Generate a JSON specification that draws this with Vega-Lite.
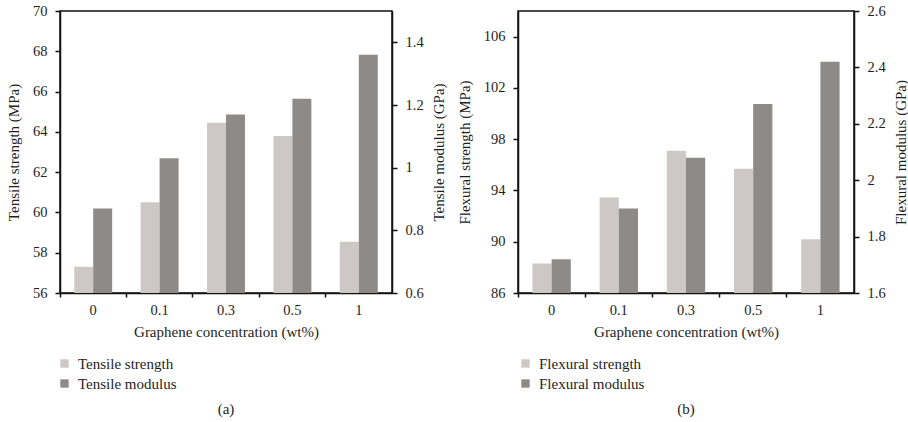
{
  "$schema": "https://vega.github.io/schema/vega-lite/v6.json",
  "background": "white",
  "padding": {"left": 5, "top": 2, "right": 2, "bottom": 2},
  "spacing": 9,
  "resolve": {"scale": {"color": "independent", "x": "independent", "xOffset": "independent"}, "legend": {"color": "independent"}},
  "config": {
    "font": "Liberation Serif",
    "view": {"stroke": "#111", "strokeWidth": 1.5},
    "axis": {
      "labelFont": "Liberation Serif", "labelFontSize": 14.5, "labelColor": "#1e1e1e",
      "titleFont": "Liberation Serif", "titleFontSize": 15, "titleFontWeight": "normal", "titleColor": "#1e1e1e",
      "domainColor": "#111", "domainWidth": 1.5, "tickColor": "#111", "tickWidth": 1.5, "tickSize": 5,
      "grid": false, "labelPadding": 8
    },
    "legend": {
      "labelFont": "Liberation Serif", "labelFontSize": 15, "labelColor": "#1e1e1e",
      "symbolType": "square", "symbolSize": 70, "symbolStrokeWidth": 0, "rowPadding": 4, "labelOffset": 6, "padding": 0
    },
    "title": {"font": "Liberation Serif", "fontSize": 15, "fontWeight": "normal", "color": "#1e1e1e"}
  },
  "datasets": {
    "a": [
      {"conc": "0", "series": "Tensile strength", "value": 57.3},
      {"conc": "0", "series": "Tensile modulus", "value": 0.87},
      {"conc": "0.1", "series": "Tensile strength", "value": 60.5},
      {"conc": "0.1", "series": "Tensile modulus", "value": 1.03},
      {"conc": "0.3", "series": "Tensile strength", "value": 64.45},
      {"conc": "0.3", "series": "Tensile modulus", "value": 1.17},
      {"conc": "0.5", "series": "Tensile strength", "value": 63.8},
      {"conc": "0.5", "series": "Tensile modulus", "value": 1.22},
      {"conc": "1", "series": "Tensile strength", "value": 58.55},
      {"conc": "1", "series": "Tensile modulus", "value": 1.36}
    ],
    "b": [
      {"conc": "0", "series": "Flexural strength", "value": 88.3},
      {"conc": "0", "series": "Flexural modulus", "value": 1.72},
      {"conc": "0.1", "series": "Flexural strength", "value": 93.45},
      {"conc": "0.1", "series": "Flexural modulus", "value": 1.90},
      {"conc": "0.3", "series": "Flexural strength", "value": 97.1},
      {"conc": "0.3", "series": "Flexural modulus", "value": 2.08},
      {"conc": "0.5", "series": "Flexural strength", "value": 95.7},
      {"conc": "0.5", "series": "Flexural modulus", "value": 2.27},
      {"conc": "1", "series": "Flexural strength", "value": 90.2},
      {"conc": "1", "series": "Flexural modulus", "value": 2.42}
    ]
  },
  "hconcat": [
    {
      "title": {"text": "(a)", "orient": "bottom", "frame": "group", "anchor": "middle", "offset": 10},
      "width": 332,
      "height": 282,
      "data": {"name": "a"},
      "encoding": {
        "x": {
          "field": "conc", "type": "nominal", "sort": ["0", "0.1", "0.3", "0.5", "1"],
          "scale": {"paddingInner": 0, "paddingOuter": 0},
          "axis": {"title": "Graphene concentration (wt%)", "labelAngle": 0, "bandPosition": 0, "tickSize": 4, "labelPadding": 6, "titlePadding": 8}
        },
        "xOffset": {
          "field": "series", "type": "nominal",
          "scale": {"domain": ["Tensile strength", "Tensile modulus"], "paddingInner": 0, "paddingOuter": 0.75}
        },
        "color": {
          "field": "series", "type": "nominal",
          "scale": {"domain": ["Tensile strength", "Tensile modulus"], "range": ["#cdc8c6", "#8e8a88"]},
          "legend": {"title": null, "orient": "none", "legendX": -3, "legendY": 345, "direction": "vertical"}
        }
      },
      "layer": [
        {
          "transform": [{"filter": "datum.series === 'Tensile strength'"}],
          "mark": {"type": "bar", "clip": true},
          "encoding": {
            "y": {
              "field": "value", "type": "quantitative",
              "scale": {"domain": [56, 70], "zero": false, "nice": false},
              "axis": {"title": "Tensile strength (MPa)", "values": [56, 58, 60, 62, 64, 66, 68, 70], "titlePadding": 11}
            }
          }
        },
        {
          "transform": [{"filter": "datum.series === 'Tensile modulus'"}],
          "mark": {"type": "bar", "clip": true},
          "encoding": {
            "y": {
              "field": "value", "type": "quantitative",
              "scale": {"domain": [0.6, 1.5], "zero": false, "nice": false},
              "axis": {"title": "Tensile modulus (GPa)", "orient": "right", "values": [0.6, 0.8, 1, 1.2, 1.4], "format": "~g", "titleAngle": -90, "titleBaseline": "top", "titlePadding": 8}
            }
          }
        }
      ],
      "resolve": {"scale": {"y": "independent"}}
    },
    {
      "title": {"text": "(b)", "orient": "bottom", "frame": "group", "anchor": "middle", "offset": 10},
      "width": 336,
      "height": 282,
      "data": {"name": "b"},
      "encoding": {
        "x": {
          "field": "conc", "type": "nominal", "sort": ["0", "0.1", "0.3", "0.5", "1"],
          "scale": {"paddingInner": 0, "paddingOuter": 0},
          "axis": {"title": "Graphene concentration (wt%)", "labelAngle": 0, "bandPosition": 0, "tickSize": 4, "labelPadding": 6, "titlePadding": 8}
        },
        "xOffset": {
          "field": "series", "type": "nominal",
          "scale": {"domain": ["Flexural strength", "Flexural modulus"], "paddingInner": 0, "paddingOuter": 0.75}
        },
        "color": {
          "field": "series", "type": "nominal",
          "scale": {"domain": ["Flexural strength", "Flexural modulus"], "range": ["#cdc8c6", "#8e8a88"]},
          "legend": {"title": null, "orient": "none", "legendX": 0, "legendY": 345, "direction": "vertical"}
        }
      },
      "layer": [
        {
          "transform": [{"filter": "datum.series === 'Flexural strength'"}],
          "mark": {"type": "bar", "clip": true},
          "encoding": {
            "y": {
              "field": "value", "type": "quantitative",
              "scale": {"domain": [86, 108], "zero": false, "nice": false},
              "axis": {"title": "Flexural strength (MPa)", "values": [86, 90, 94, 98, 102, 106], "titlePadding": 11}
            }
          }
        },
        {
          "transform": [{"filter": "datum.series === 'Flexural modulus'"}],
          "mark": {"type": "bar", "clip": true},
          "encoding": {
            "y": {
              "field": "value", "type": "quantitative",
              "scale": {"domain": [1.6, 2.6], "zero": false, "nice": false},
              "axis": {"title": "Flexural modulus (GPa)", "orient": "right", "values": [1.6, 1.8, 2, 2.2, 2.4, 2.6], "format": "~g", "titleAngle": -90, "titleBaseline": "top", "titlePadding": 8}
            }
          }
        }
      ],
      "resolve": {"scale": {"y": "independent"}}
    }
  ]
}
